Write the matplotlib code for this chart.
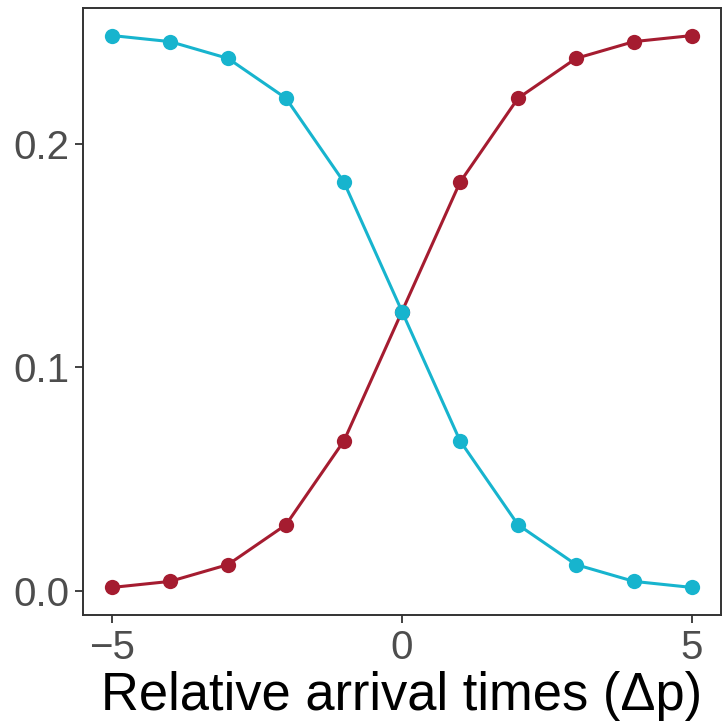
import numpy as np
import matplotlib.pyplot as plt

plt.rcParams['font.family'] = ['Liberation Sans', 'DejaVu Sans']

# relative arrival time (in periods) and the two weight curves
delta_p = [-5, -4, -3, -2, -1, 0, 1, 2, 3, 4, 5]
weight_late = [0.0018, 0.0045, 0.0120, 0.0298, 0.0673, 0.1250,
               0.1827, 0.2202, 0.2380, 0.2455, 0.2482]
weight_early = [0.2482, 0.2455, 0.2380, 0.2202, 0.1827, 0.1250,
                0.0673, 0.0298, 0.0120, 0.0045, 0.0018]

red = '#A51C30'
cyan = '#17B4CE'

fig = plt.figure(figsize=(7.23, 7.25), dpi=100)
ax = fig.add_axes([83 / 723, 110 / 725, 638 / 723, 607 / 725])

ax.plot(delta_p, weight_late, color=red, lw=2.2, marker='o', ms=11,
        mec='none', zorder=3)
ax.plot(delta_p, weight_early, color=cyan, lw=2.2, marker='o', ms=11,
        mec='none', zorder=4)

ax.set_xlim(-5.5, 5.5)
ax.set_ylim(-0.0105, 0.2605)
ax.set_xticks([-5, 0, 5])
ax.set_xticklabels(['\u22125', '0', '5'])
ax.set_yticks([0.0, 0.1, 0.2])
ax.set_yticklabels(['0.0', '0.1', '0.2'])

for s in ax.spines.values():
    s.set_color('#333333')
    s.set_linewidth(1.4)

ax.tick_params(direction='out', length=6, width=1.3, color='#333333',
               labelsize=29, labelcolor='#4D4D4D', pad=4)
ax.set_xlabel('Relative arrival times (\u0394p)', fontsize=37.8,
              color='black', labelpad=3)

fig.savefig('out.png', dpi=100)
